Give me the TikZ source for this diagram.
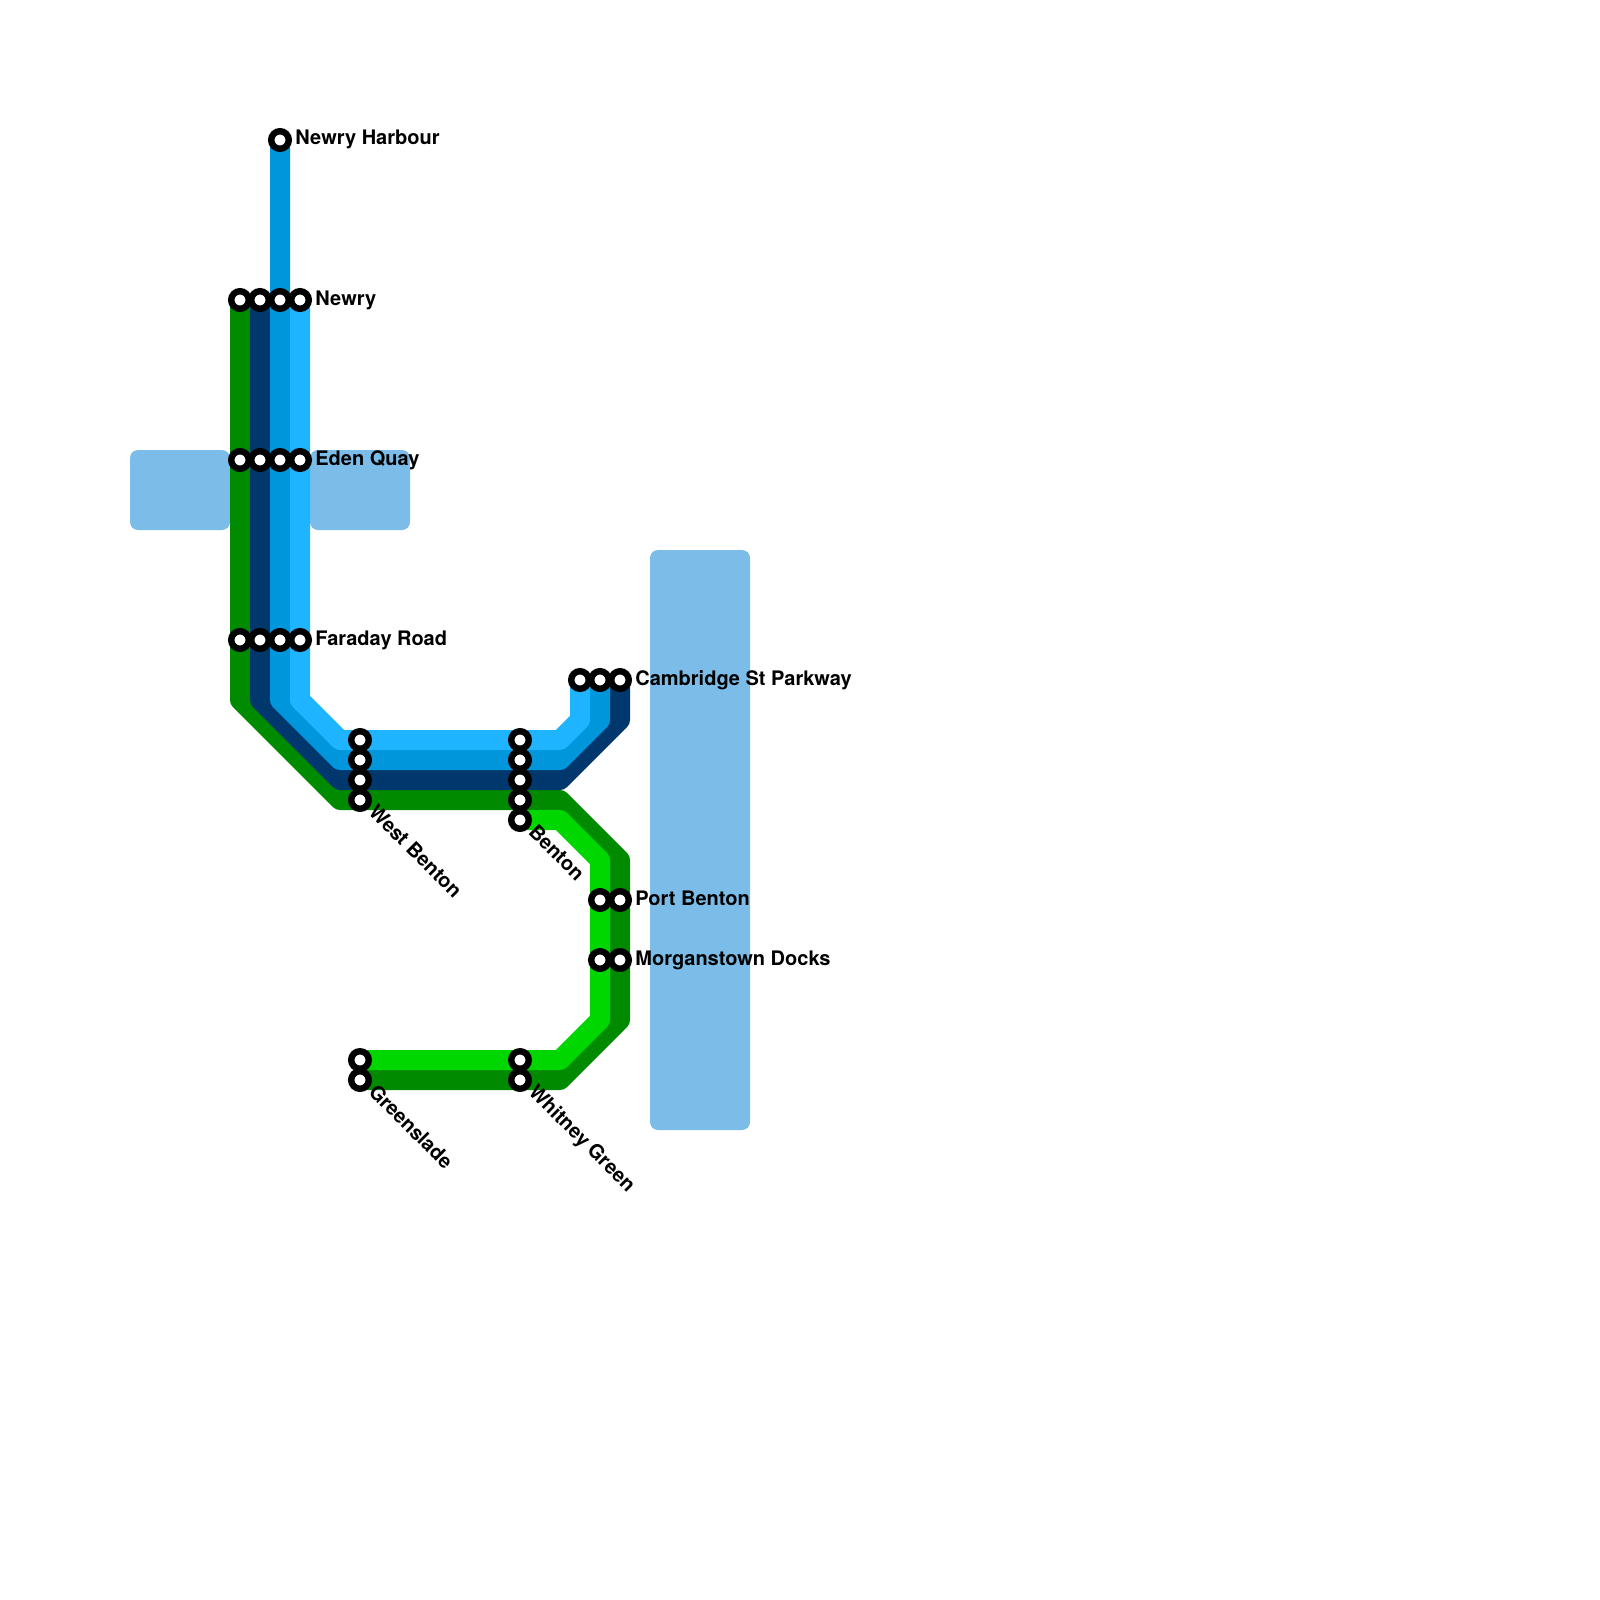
\documentclass[tikz,border=0pt]{standalone}
\usepackage{fontspec}
\setmainfont{TeX Gyre Heros}
\usetikzlibrary{positioning,backgrounds}
\definecolor{waterblue}{HTML}{7BBDE8}
\definecolor{darkgreen}{HTML}{008A00}
\definecolor{limegreen}{HTML}{00D600}
\definecolor{navyline}{HTML}{00386E}
\definecolor{midblue}{HTML}{0096DC}
\definecolor{skyblue}{HTML}{1FB4FF}

\begin{document}
\begin{tikzpicture}[
    x=0.5pt, y=-0.5pt,
    node distance=10pt,
    stn/.style={on grid, draw, circle, line width=3.2pt, fill=white, minimum size=8.8pt, inner sep=0pt, outer sep=0pt},
    route/.style={line width=10pt, line join=round},
    water/.style={fill=waterblue, rounded corners=4pt},
    stnlabel/.style={font=\fontsize{10}{12}\selectfont\bfseries, inner sep=0pt, anchor=base west},
    sidelabel/.style={stnlabel, xshift=7.5pt, yshift=-2.5pt},
    downlabel/.style={stnlabel, rotate=-45, xshift=7.1pt, yshift=-2pt},
]
\useasboundingbox (0,0) rectangle (1600,1600);

% stations
\node[stn] (harbour) at (280,140) {};

\node[stn] (newryA) at (240,300) {};
\node[stn, right=of newryA] (newryB) {};
\node[stn, right=of newryB] (newryC) {};
\node[stn, right=of newryC] (newryD) {};

\node[stn] (edenA) at (240,460) {};
\node[stn, right=of edenA] (edenB) {};
\node[stn, right=of edenB] (edenC) {};
\node[stn, right=of edenC] (edenD) {};

\node[stn] (faradayA) at (240,640) {};
\node[stn, right=of faradayA] (faradayB) {};
\node[stn, right=of faradayB] (faradayC) {};
\node[stn, right=of faradayC] (faradayD) {};

\node[stn] (westA) at (360,740) {};
\node[stn, below=of westA] (westB) {};
\node[stn, below=of westB] (westC) {};
\node[stn, below=of westC] (westD) {};

\node[stn] (bentonA) at (520,740) {};
\node[stn, below=of bentonA] (bentonB) {};
\node[stn, below=of bentonB] (bentonC) {};
\node[stn, below=of bentonC] (bentonD) {};
\node[stn, below=of bentonD] (bentonE) {};

\node[stn] (cambA) at (580,680) {};
\node[stn, right=of cambA] (cambB) {};
\node[stn, right=of cambB] (cambC) {};

\node[stn] (portA) at (600,900) {};
\node[stn, right=of portA] (portB) {};
\node[stn] (morgA) at (600,960) {};
\node[stn, right=of morgA] (morgB) {};

\node[stn] (greenA) at (360,1060) {};
\node[stn, below=of greenA] (greenB) {};
\node[stn] (whitA) at (520,1060) {};
\node[stn, below=of whitA] (whitB) {};

% bends
\coordinate (darkA) at (240,700);
\coordinate (darkB) at (340,800);
\coordinate (darkC) at (560,800);
\coordinate (darkD) at (620,860);
\coordinate (darkE) at (620,1020);
\coordinate (darkF) at (560,1080);
\coordinate (navyA) at (260,700);
\coordinate (navyB) at (340,780);
\coordinate (navyC) at (560,780);
\coordinate (navyD) at (620,720);
\coordinate (midA) at (280,700);
\coordinate (midB) at (340,760);
\coordinate (midC) at (560,760);
\coordinate (midD) at (600,720);
\coordinate (skyA) at (300,700);
\coordinate (skyB) at (340,740);
\coordinate (skyC) at (560,740);
\coordinate (skyD) at (580,720);
\coordinate (limeA) at (560,820);
\coordinate (limeB) at (600,860);
\coordinate (limeC) at (600,1020);
\coordinate (limeD) at (560,1060);

\begin{scope}[on background layer]
    \fill[water] (130,450) rectangle (230,530);
    \fill[water] (310,450) rectangle (410,530);
    \fill[water] (650,550) rectangle (750,1130);

    \draw[route, darkgreen] (newryA.center) -- (darkA) -- (darkB) -- (darkC) -- (darkD) -- (darkE) -- (darkF) -- (greenB.center);
    \draw[route, navyline] (newryB.center) -- (navyA) -- (navyB) -- (navyC) -- (navyD) -- (cambC.center);
    \draw[route, midblue] (harbour.center) -- (midA) -- (midB) -- (midC) -- (midD) -- (cambB.center);
    \draw[route, skyblue] (newryD.center) -- (skyA) -- (skyB) -- (skyC) -- (skyD) -- (cambA.center);
    \draw[route, limegreen] (bentonE.center) -- (limeA) -- (limeB) -- (limeC) -- (limeD) -- (greenA.center);
\end{scope}

% labels
\node[sidelabel] (harbourText) at (harbour) {Newry Harbour};
\node[sidelabel] (newryText) at (newryD) {Newry};
\node[sidelabel] (edenText) at (edenD) {Eden Quay};
\node[sidelabel] (faradayText) at (faradayD) {Faraday Road};
\node[sidelabel] (cambText) at (cambC) {Cambridge St Parkway};
\node[sidelabel] (portText) at (portB) {Port Benton};
\node[sidelabel] (morgText) at (morgB) {Morganstown Docks};
\node[downlabel] (westText) at (westD) {West Benton};
\node[downlabel] (bentonText) at (bentonE) {Benton};
\node[downlabel] (greenText) at (greenB) {Greenslade};
\node[downlabel] (whitText) at (whitB) {Whitney Green};

\end{tikzpicture}
\end{document}
